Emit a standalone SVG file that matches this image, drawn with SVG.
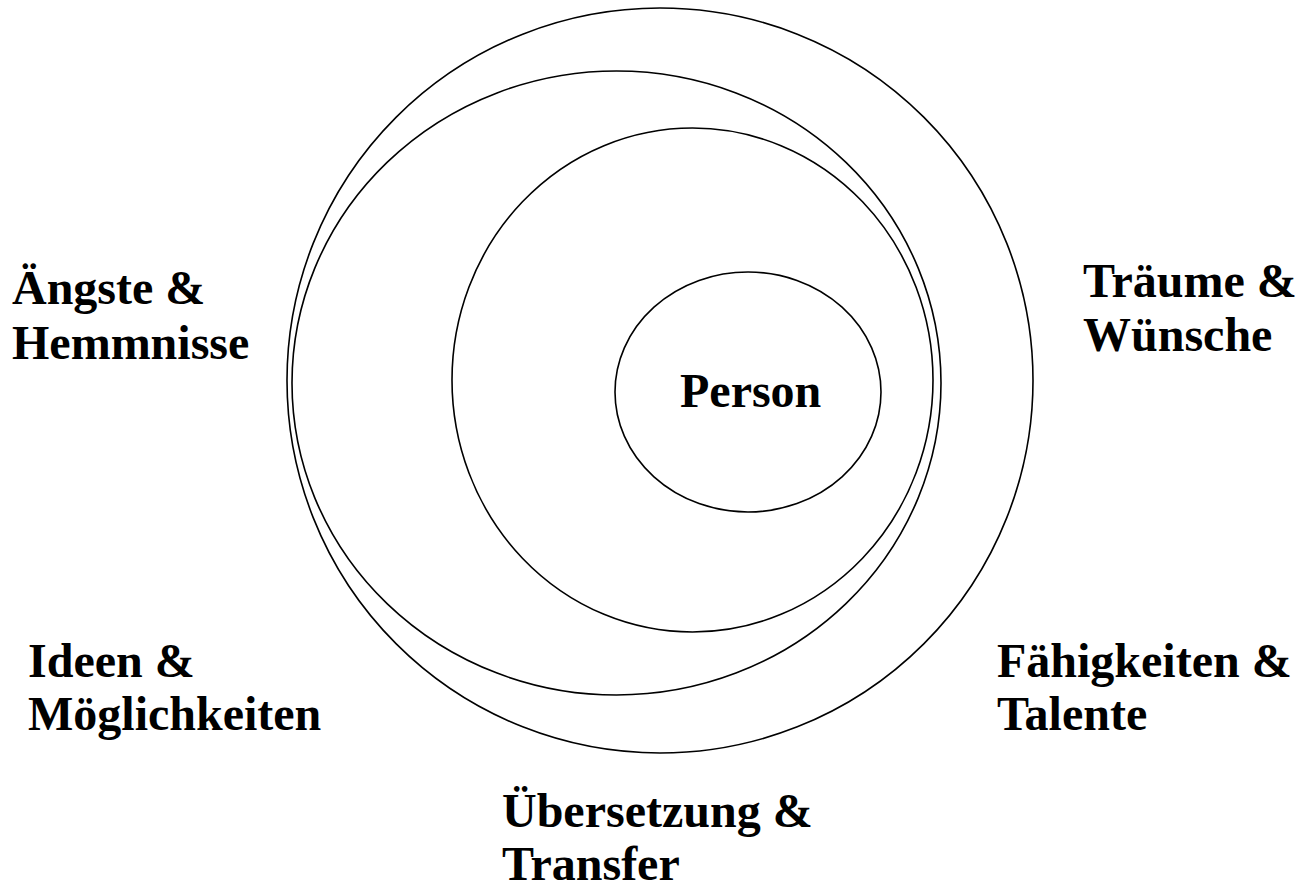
<svg xmlns="http://www.w3.org/2000/svg" width="1311" height="890" viewBox="0 0 1311 890">
<style>
.ring{fill:none;stroke:#000;stroke-width:1.6}
.lbl{font-family:"Liberation Serif","Times New Roman",serif;font-weight:bold;font-size:48px;fill:#000}
</style>
<rect width="1311" height="890" fill="#fff"/>
<g id="ring-outer"><ellipse class="ring" cx="660" cy="380.5" rx="373" ry="372.5"/></g>
<g id="ring-second"><ellipse class="ring" cx="616.5" cy="383" rx="324.5" ry="312"/></g>
<g id="ring-third"><ellipse class="ring" cx="692.5" cy="380" rx="240.5" ry="252"/></g>
<g id="person"><ellipse class="ring" cx="748" cy="392" rx="133" ry="120"/><text class="lbl" x="680" y="407">Person</text></g>
<g id="connectors"></g>
<g id="aengste"><text class="lbl" x="12" y="304">Ängste &amp;</text><text class="lbl" x="12" y="359">Hemmnisse</text></g>
<g id="traeume"><text class="lbl" x="1083" y="297">Träume &amp;</text><text class="lbl" x="1083" y="351">Wünsche</text></g>
<g id="ideen"><text class="lbl" x="28" y="677">Ideen &amp;</text><text class="lbl" x="28" y="730">Möglichkeiten</text></g>
<g id="faehigkeiten"><text class="lbl" x="997" y="677">Fähigkeiten &amp;</text><text class="lbl" x="997" y="730">Talente</text></g>
<g id="uebersetzung"><text class="lbl" x="502" y="827">Übersetzung &amp;</text><text class="lbl" x="502" y="880">Transfer</text></g>
</svg>
